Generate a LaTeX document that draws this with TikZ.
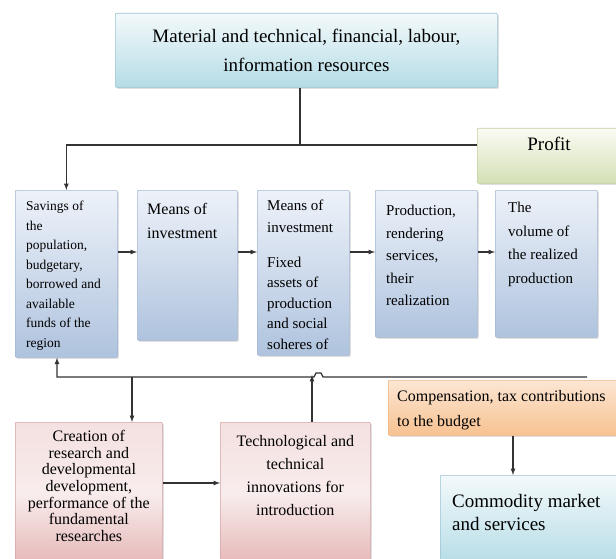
\documentclass[tikz,border=0pt]{standalone}
\usepackage{fontspec}
\setmainfont{Liberation Serif}
\usetikzlibrary{positioning}
\usetikzlibrary{shadows}

\definecolor{bluetop}{HTML}{EDF2F9}
\definecolor{bluebot}{HTML}{AFC3DE}
\definecolor{blueln}{HTML}{A3B8D4}
\definecolor{cyantop}{HTML}{F3F9FB}
\definecolor{cyanbot}{HTML}{B5DCE6}
\definecolor{cyanln}{HTML}{9CC3D3}
\definecolor{greentop}{HTML}{FAFBF3}
\definecolor{greenbot}{HTML}{D4E0B6}
\definecolor{greenln}{HTML}{C3D09F}
\definecolor{pinktop}{HTML}{F4E0E0}
\definecolor{pinkbot}{HTML}{E6B7B7}
\definecolor{pinkln}{HTML}{D9A2A2}
\definecolor{orangetop}{HTML}{FCE6D3}
\definecolor{orangebot}{HTML}{F7C291}
\definecolor{orangeln}{HTML}{EFB585}
\definecolor{lncol}{HTML}{333333}

\newcommand\fsz[2]{\fontsize{#1}{#2}\selectfont}

\begin{document}
\begin{tikzpicture}[x=1pt, y=-1pt,
  box/.style={rectangle, anchor=north west, inner sep=0pt, rounded corners=1pt, line width=0.7pt,
    drop shadow={shadow xshift=1.5pt, shadow yshift=-1.5pt, opacity=0.25}},
  bluebox/.style={box, draw=blueln, top color=bluetop, bottom color=bluebot},
  cyanbox/.style={box, draw=cyanln, top color=cyantop, bottom color=cyanbot},
  greenbox/.style={box, draw=greenln, top color=greentop, bottom color=greenbot},
  pinkbox/.style={box, draw=pinkln, top color=pinktop, bottom color=pinkbot, middle color=pinktop!60},
  orangebox/.style={box, draw=orangeln, top color=orangetop, bottom color=orangebot},
  txt/.style={anchor=north west, inner sep=0pt, align=left, text=black},
  ctxt/.style={anchor=north, inner sep=0pt, align=center, text=black},
  ln/.style={line width=1.2pt, draw=lncol},
  arr/.style={ln, -latex}
]
  \useasboundingbox (0,0) rectangle (616,559);
  \clip (0,0) rectangle (616,559);

  % top row
  \node[cyanbox, minimum width=382pt, minimum height=74pt, align=center, font=\fsz{19}{29}] (res) at (115,13)
    {Material and technical, financial, labour,\\information resources};
  \node[greenbox, minimum width=145pt, minimum height=55pt] (prof) at (477,128) {};
  \node[inner sep=0pt, font=\fsz{19}{23}] (profT) at (549,144) {Profit};

  % chain of boxes
  \node[bluebox, minimum width=102pt, minimum height=167pt] (sav) at (15,190) {};
  \node[bluebox, minimum width=100pt, minimum height=150pt] (inv) at (137,190) {};
  \node[bluebox, minimum width=92pt, minimum height=165pt] (fix) at (257,190) {};
  \node[bluebox, minimum width=102pt, minimum height=147pt] (prod) at (375,190) {};
  \node[bluebox, minimum width=102pt, minimum height=147pt] (vol) at (495,190) {};

  \node[txt, font=\fsz{13.5}{19.5}, below right=11pt and 11pt of sav.north west] (savT)
    {Savings of\\the\\population,\\budgetary,\\borrowed and\\available\\funds of the\\region};
  \node[txt, font=\fsz{16}{24}, below right=13pt and 10pt of inv.north west] (invT)
    {Means of\\investment};
  \node[txt, font=\fsz{15}{20.5}, below right=10pt and 10pt of fix.north west] (fixT)
    {Means of\\[1.5pt]investment\\[14pt]Fixed\\assets of\\production\\and social\\soheres of};
  \node[txt, font=\fsz{15}{22.5}, below right=15pt and 11pt of prod.north west] (prodT)
    {Production,\\rendering\\services,\\their\\realization};
  \node[txt, font=\fsz{15}{23.5}, below right=12pt and 13pt of vol.north west] (volT)
    {The\\volume of\\the realized\\production};

  % bottom part
  \node[orangebox, minimum width=233pt, minimum height=55pt] (comp) at (388,380) {};
  \node[txt, font=\fsz{16}{25}, below right=10pt and 9pt of comp.north west] (compT)
    {Compensation, tax contributions\\to the budget};
  \node[cyanbox, minimum width=181pt, minimum height=90pt] (comm) at (440,475) {};
  \node[txt, font=\fsz{19}{23}, below right=19pt and 12pt of comm.north west] (commT)
    {Commodity market\\and services};
  \node[pinkbox, minimum width=147pt, minimum height=142pt] (crea) at (15,422) {};
  \node[ctxt, font=\fsz{16}{16.7}, below=8pt of crea.north] (creaT)
    {Creation of\\research and\\developmental\\development,\\performance of the\\fundamental\\researches};
  \node[pinkbox, minimum width=150pt, minimum height=142pt] (tech) at (220,422) {};
  \node[ctxt, font=\fsz{16}{23}, below=13pt of tech.north] (techT)
    {Technological and\\technical\\innovations for\\introduction};

  % connectors
  \coordinate (junc) at (300,145);
  \draw[ln] (res.south -| junc) -- (junc);
  \draw[arr] (prof.west |- junc) -| (sav.north);

  \coordinate (rowy) at (0,252);
  \foreach \a/\b in {sav/inv, inv/fix, fix/prod, prod/vol}
    \draw[arr] (\a.east |- rowy) -- (\b.west |- rowy);

  \coordinate (fbr) at (587,377);
  \coordinate (hop) at (323,377);
  \coordinate (fbl) at (57,377);
  \draw[arr] (fbr) -- (hop) -- ++(-2,-4) -- ++(-5,0) -- ++(-2,4) -- (fbl) -- (fbl |- sav.south);

  \coordinate (tap) at (132,377);
  \draw[arr] (tap) -- (tap |- crea.north);
  \coordinate (tin) at (312,375);
  \draw[arr] (tin |- tech.north) -- (tin);
  \coordinate (ry) at (0,483);
  \draw[arr] (crea.east |- ry) -- (tech.west |- ry);
  \coordinate (cx) at (513,0);
  \draw[arr] (comp.south -| cx) -- (comm.north -| cx);
\end{tikzpicture}
\end{document}
